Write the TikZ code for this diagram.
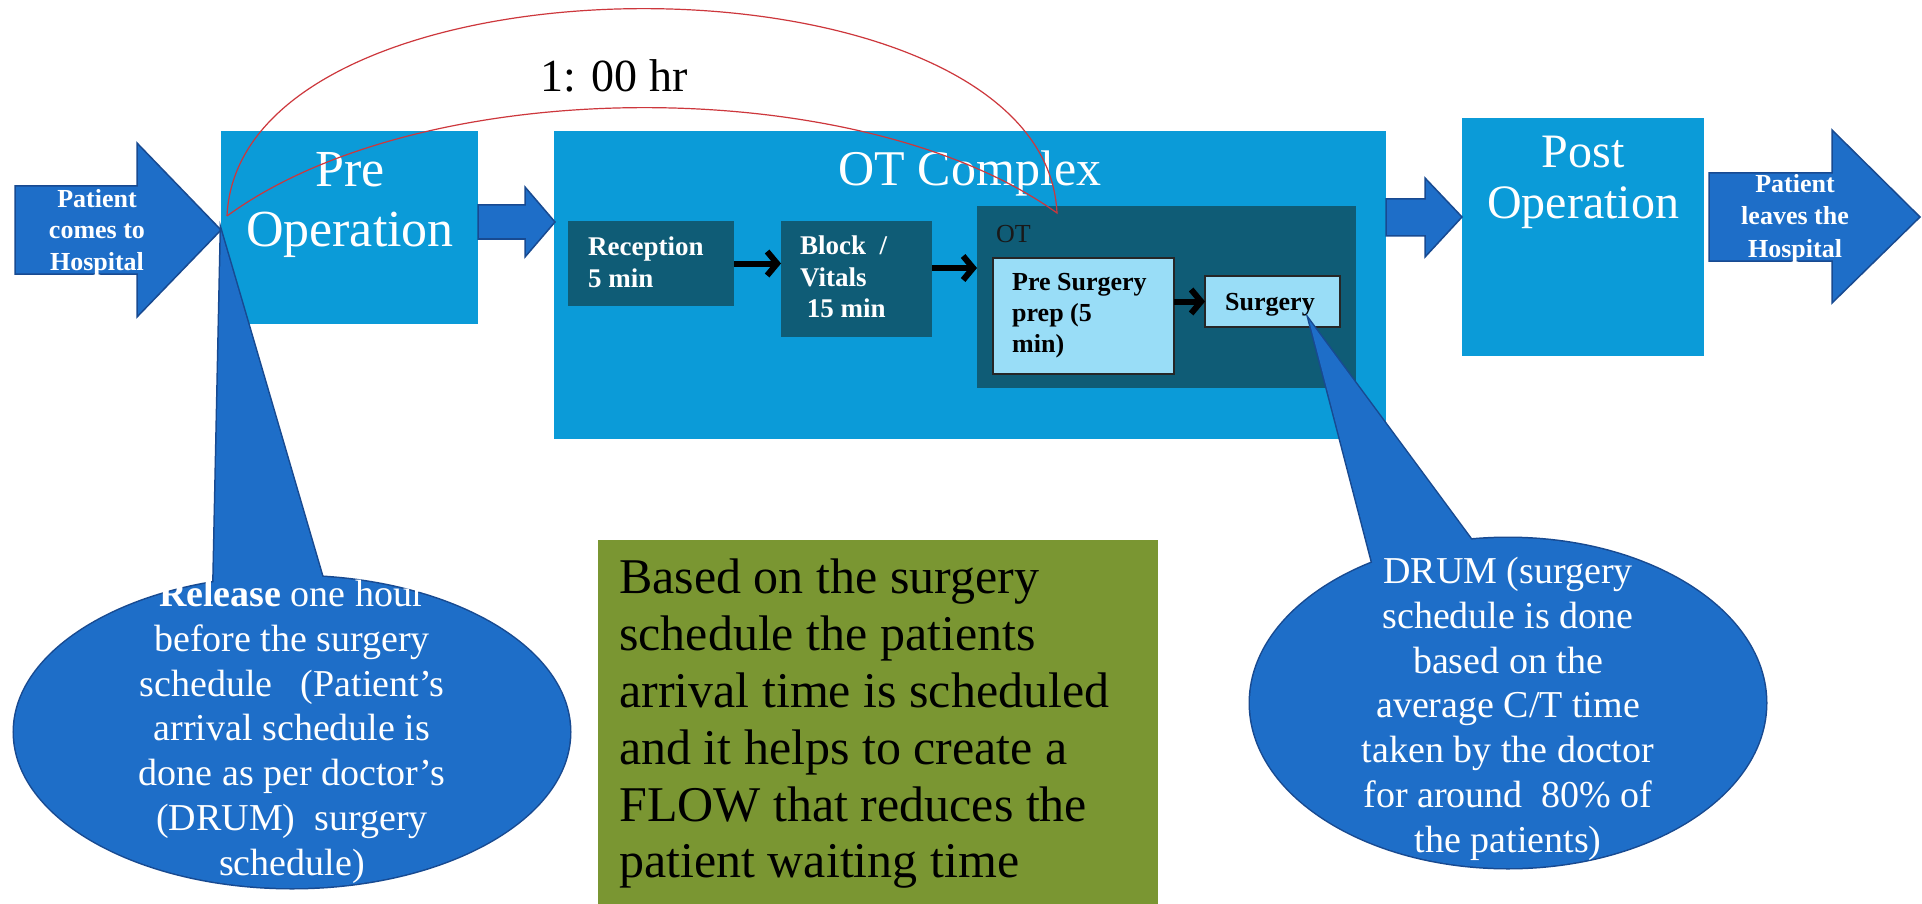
\documentclass[tikz,border=0pt]{standalone}
\usepackage{fontspec}
\setmainfont{Liberation Serif}
\usetikzlibrary{arrows.meta,calc}
\definecolor{boxblue}{RGB}{11,155,216}
\definecolor{arrblue}{RGB}{30,110,200}
\definecolor{arredge}{RGB}{24,74,145}
\definecolor{darkteal}{RGB}{15,92,118}
\definecolor{paleblue}{RGB}{153,221,247}
\definecolor{olivebox}{RGB}{122,150,50}
\definecolor{arcred}{RGB}{205,55,60}
\newcommand{\fsz}[2]{\fontsize{#1}{#2}\selectfont}
\begin{document}
\begin{tikzpicture}[x=1pt,y=-1pt,
  box/.style={anchor=north west,inner sep=0pt,outer sep=0pt,fill=#1},
  framedbox/.style={box=#1,draw=black!85,line width=1.5pt},
  blockarrow/.style={fill=arrblue,draw=arredge,line width=1.5pt,line join=miter},
  flowarrow/.style={line width=6pt,-{Straight Barb[length=10pt,width=24pt,line width=6pt]}},
  wtxt/.style={text=white,inner sep=0pt},
  btxt/.style={text=black,inner sep=0pt}]
\useasboundingbox (0,0) rectangle (1922,904);
\fill[white] (0,0) rectangle (1922,904);

% main boxes
\node[box=boxblue,minimum width=257pt,minimum height=193pt] (pre) at (221,131) {};
\node[box=boxblue,minimum width=832pt,minimum height=308pt] (otc) at (554,131) {};
\node[box=boxblue,minimum width=242pt,minimum height=238pt] (post) at (1462,118) {};
\node[wtxt,anchor=north,align=center,font=\fsz{52}{60}] (pretxt) at (350,152) {Pre\\Operation};
\node[wtxt,anchor=base,font=\fsz{50}{56}] (otctxt) at (970,186) {OT Complex};
\node[wtxt,anchor=north,align=center,font=\fsz{48}{51}] (posttxt) at (1583,136) {Post\\Operation};

% inner boxes
\node[box=darkteal,minimum width=166pt,minimum height=85pt] (rec) at (568,221) {};
\node[box=darkteal,minimum width=151pt,minimum height=116pt] (blk) at (781,221) {};
\node[box=darkteal,minimum width=379pt,minimum height=182pt] (ot) at (977,206) {};
\node[framedbox=paleblue,minimum width=181pt,minimum height=116pt] (prep) at (993,258) {};
\node[framedbox=paleblue,minimum width=135pt,minimum height=51pt] (surg) at (1205,276) {};
\node[wtxt,anchor=north west,align=left,font=\bfseries\fsz{27}{32}] (rectxt) at (588,237) {Reception\\5 min};
\node[wtxt,anchor=north west,align=left,font=\bfseries\fsz{27}{31.5}] (blktxt) at (800,236) {Block~~/\\Vitals\\\ 15 min};
\node[btxt,anchor=base west,font=\fsz{26}{30},text=black!90] (ottxt) at (996,242) {OT};
\node[btxt,anchor=north west,align=left,font=\bfseries\fsz{26}{31}] (preptxt) at (1012,273) {Pre Surgery\\prep (5\\min)};
\node[btxt,anchor=base,font=\bfseries\fsz{26}{30}] (surgtxt) at (1270,310) {Surgery};

% flow arrows
\draw[flowarrow] (rec.east) -- (rec.east -| blk.west);
\draw[flowarrow] ($(blk.east)+(0,-11)$) coordinate (b1) -- (b1 -| ot.west);
\draw[flowarrow] (prep.east |- surg.west) -- (surg.west);

% note box
\node[box=olivebox,minimum width=560pt,minimum height=365pt] (note) at (598,540) {};
\node[btxt,anchor=north west,align=left,font=\fsz{50}{56.8}] (notetxt) at (619,559)
  {Based on the surgery\\schedule the patients\\arrival time is scheduled\\and it helps to create a\\FLOW that reduces the\\patient waiting time};

% left callout
\draw[arredge,line width=3pt] (221,231) -- (213,610) -- (332,610) -- cycle;
\draw[arredge,line width=3pt] (292,732) ellipse [x radius=278pt, y radius=156pt];
\fill[arrblue] (221,231) -- (213,610) -- (332,610) -- cycle;
\fill[arrblue] (292,732) ellipse [x radius=278pt, y radius=156pt];
% right callout
\draw[arredge,line width=3pt] (1309,320) -- (1382,600) -- (1501,580) -- cycle;
\draw[arredge,line width=3pt] (1508,703) ellipse [x radius=258pt, y radius=165pt];
\fill[arrblue] (1309,320) -- (1382,600) -- (1501,580) -- cycle;
\fill[arrblue] (1508,703) ellipse [x radius=258pt, y radius=165pt];

% block arrows
\draw[blockarrow] (15,186) -- (137,186) -- (137,143) -- (221,230) -- (137,317) -- (137,274) -- (15,274) -- cycle;
\draw[blockarrow] (478,205) -- (525,205) -- (525,187) -- (555,222) -- (525,257) -- (525,239) -- (478,239) -- cycle;
\draw[blockarrow] (1386,199) -- (1425,199) -- (1425,178) -- (1462,217) -- (1425,257) -- (1425,236) -- (1386,236) -- cycle;
\draw[blockarrow] (1709,173) -- (1832,173) -- (1832,130) -- (1920,217) -- (1832,303) -- (1832,261) -- (1709,261) -- cycle;
\node[wtxt,anchor=north,align=center,font=\bfseries\fsz{26}{31.5}] (intxt) at (97,189) {Patient\\comes to\\Hospital};
\node[wtxt,anchor=north,align=center,font=\bfseries\fsz{26}{32.5}] (outtxt) at (1795,174) {Patient\\leaves the\\Hospital};

% callout texts
\node[wtxt,anchor=north,align=center,font=\fsz{38}{44.8}] (reltxt) at (292,580)
  {\textbf{Release} one hour\\before the surgery\\schedule~~~(Patient's\\arrival schedule is\\done as per doctor's\\(DRUM)~~surgery\\schedule)};
\node[wtxt,anchor=north,align=center,font=\fsz{38}{44.8}] (drumtxt) at (1508,557)
  {DRUM (surgery\\schedule is done\\based on the\\average C/T time\\taken by the doctor\\for around~~80\% of\\the patients)};

% red arc
\coordinate (arcA) at (227,216);
\coordinate (arcB) at (1057,213);
\draw[arcred,line width=1.2pt] (arcA) .. controls (240,-60) and (1044,-60) .. (arcB)
   .. controls (860,72) and (424,72) .. (arcA);
\node[btxt,anchor=base,font=\fsz{46}{50}] (hrtxt) at (614,92) {1: 00 hr};
\end{tikzpicture}
\end{document}
